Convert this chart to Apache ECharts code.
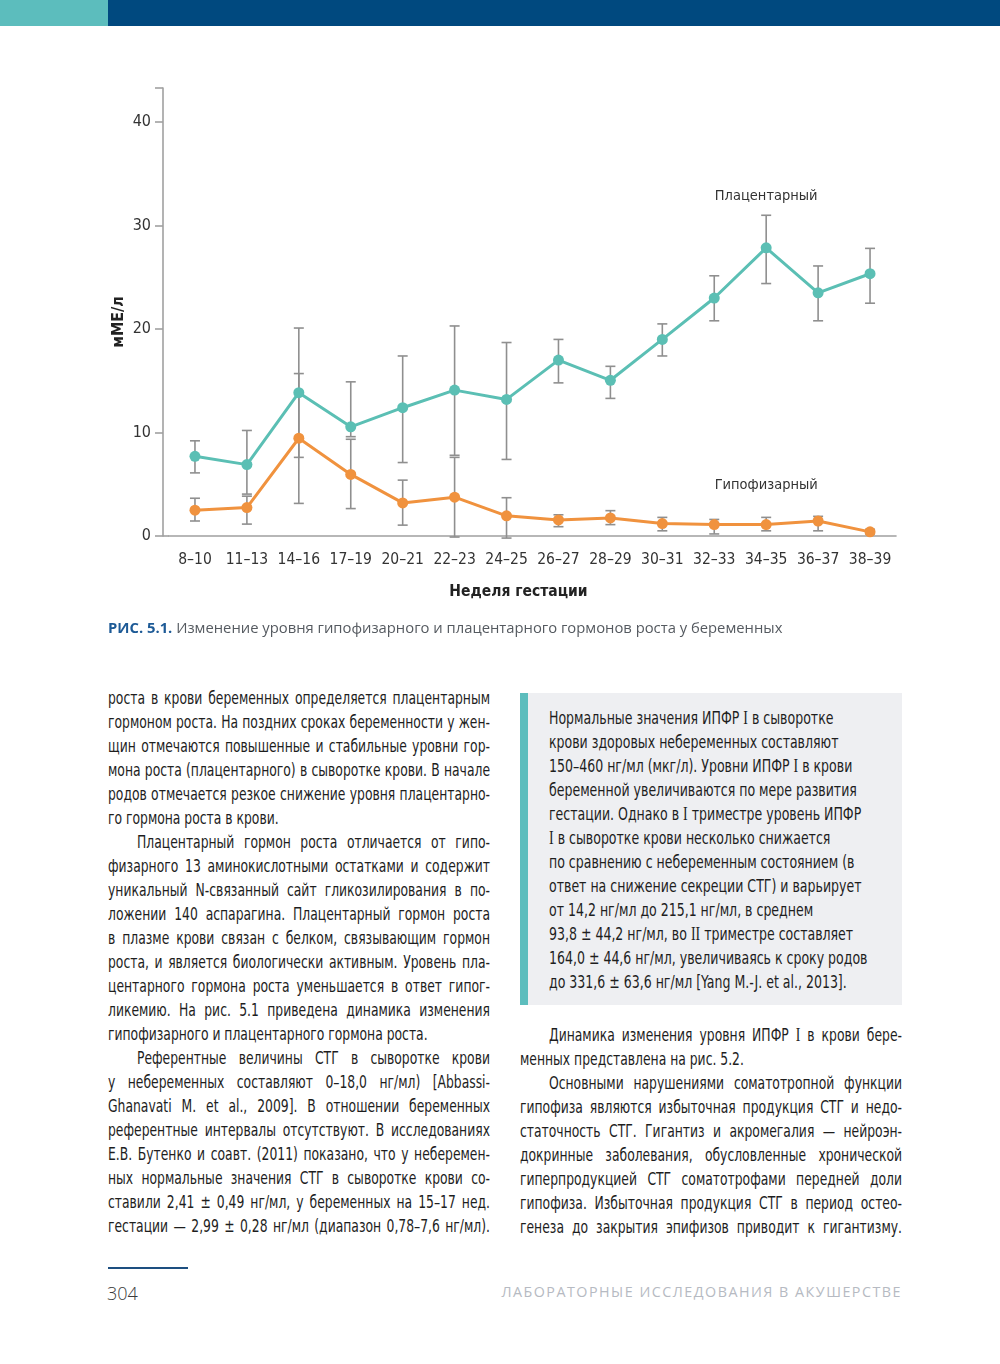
<!DOCTYPE html>
<html lang="ru">
<head>
<meta charset="utf-8">
<script src="https://cdn.jsdelivr.net/npm/echarts@6/dist/echarts.min.js"></script>
<style>
  html, body { margin: 0; padding: 0; background: #fff; }
  body { width: 1000px; height: 1364px; position: relative; overflow: hidden; }
  .bar-teal { position: absolute; left: 0; top: 0; width: 108px; height: 26px; background: #5cbdbd; }
  .bar-blue { position: absolute; left: 108px; top: 0; width: 892px; height: 26px; background: #00497f; }
  #chart { position: absolute; left: 0; top: 0; width: 1000px; height: 650px; }
  .caption { position: absolute; left: 108px; top: 617px; font-family: "Open Sans", "Noto Sans", sans-serif; font-size: 14.8px; color: #555a60; white-space: nowrap; }
  .caption b { color: #1d5a96; font-weight: 700; }
  .col { position: absolute; color: #1e1e1e; transform-origin: 0 0; font-stretch: condensed; }
  .col .ln { height: 24px; line-height: 24px; text-align: justify; text-align-last: justify; }
  .col .ln.l { text-align: left; text-align-last: left; }
  .meas { position: absolute; left: 0; top: 2000px; white-space: nowrap; visibility: hidden; font-stretch: condensed; }
  .box { position: absolute; left: 520px; top: 693px; width: 382px; height: 312px; background: #eeeff2; }
  .box .edge { position: absolute; left: 0; top: 0; width: 8px; height: 312px; background: #5cbdbd; }
  .rom { font-family: "Liberation Serif", "DejaVu Serif", serif; }
  .foot-line { position: absolute; left: 108px; top: 1267px; width: 80px; height: 2px; background: #1d4f80; }
  .pagenum { position: absolute; left: 107px; top: 1281px; font-family: "Open Sans", "Noto Sans", sans-serif; font-weight: 300; font-size: 18px; color: #3a3a3a; }
  .runhead { position: absolute; right: 98px; top: 1282px; font-family: "Open Sans", "Noto Sans", sans-serif; font-size: 14.3px; letter-spacing: 1.5px; color: #b6bac2; white-space: nowrap; }
</style>
</head>
<body>
<div class="bar-teal"></div><div class="bar-blue"></div>
<div id="chart"></div>
<div class="caption"><b>РИС. 5.1.</b> Изменение уровня гипофизарного и плацентарного гормонов роста у беременных</div>
<div class="box"><div class="edge"></div></div>
<div id="colL" class="col"></div>
<div id="colBox" class="col"></div>
<div id="colR" class="col"></div>
<div class="foot-line"></div>
<div class="pagenum">304</div>
<div class="runhead">ЛАБОРАТОРНЫЕ ИССЛЕДОВАНИЯ В АКУШЕРСТВЕ</div>
<script>
// ---------------- chart data ----------------
const categories = ['8–10','11–13','14–16','17–19','20–21','22–23','24–25','26–27','28–29','30–31','32–33','34–35','36–37','38–39'];
const placentalMean = [7.7, 6.9, 13.85, 10.55, 12.4, 14.1, 13.2, 17.0, 15.05, 19.0, 23.0, 27.85, 23.5, 25.35];
const placentalLow  = [6.1, 4.05, 7.6, 9.6, 7.1, 7.8, 7.4, 14.8, 13.3, 17.4, 20.8, 24.4, 20.8, 22.5];
const placentalHigh = [9.2, 10.2, 20.1, 14.9, 17.4, 20.3, 18.7, 19.0, 16.4, 20.5, 25.15, 31.0, 26.1, 27.8];
const pituitaryMean = [2.5, 2.75, 9.45, 5.95, 3.2, 3.75, 1.95, 1.55, 1.75, 1.2, 1.1, 1.1, 1.45, 0.4];
const pituitaryLow  = [1.45, 1.15, 3.15, 2.65, 1.05, -0.1, -0.2, 0.9, 1.1, 0.5, 0.2, 0.5, 0.5, 0.2];
const pituitaryHigh = [3.65, 3.85, 15.7, 9.35, 5.4, 7.6, 3.7, 2.05, 2.45, 1.8, 1.6, 1.8, 1.9, 0.65];
const yTicks = [0, 10, 20, 30, 40];
const seriesNames = ['Плацентарный', 'Гипофизарный'];
const xAxisTitle = 'Неделя гестации';
const yAxisTitle = 'мМЕ/л';
const labelIndex = 11;

// ---------------- font detection ----------------
function hasFont(f) {
  const c = document.createElement('canvas').getContext('2d');
  const t = 'абвгдежзийклмн ОПРСТУФ 0123456789 mmwwii';
  c.font = '40px monospace'; const a = c.measureText(t).width;
  c.font = '40px "' + f + '", monospace'; const b = c.measureText(t).width;
  c.font = '40px serif'; const a2 = c.measureText(t).width;
  c.font = '40px "' + f + '", serif'; const b2 = c.measureText(t).width;
  return a !== b && a2 !== b2;
}
let narrow = null;
['Liberation Sans Narrow', 'DejaVu Sans Condensed', 'Roboto Condensed', 'Open Sans Condensed'].some(f => { if (hasFont(f)) { narrow = f; return true; } return false; });
const chartFont = narrow ? narrow : 'Roboto';
const bodyFont = narrow ? '"' + narrow + '"' : '"Roboto", "Noto Sans", sans-serif';
const bodySize = 18;

// ---------------- text columns ----------------
const leftLines = [
  ['роста в крови беременных определяется плацентарным',''],
  ['гормоном роста. На поздних сроках беременности у жен-',''],
  ['щин отмечаются повышенные и стабильные уровни гор-',''],
  ['мона роста (плацентарного) в сыворотке крови. В начале',''],
  ['родов отмечается резкое снижение уровня плацентарно-',''],
  ['го гормона роста в крови.','l'],
  ['Плацентарный гормон роста отличается от гипо-','ind'],
  ['физарного 13 аминокислотными остатками и содержит',''],
  ['уникальный N-связанный сайт гликозилирования в по-',''],
  ['ложении 140 аспарагина. Плацентарный гормон роста',''],
  ['в плазме крови связан с белком, связывающим гормон',''],
  ['роста, и является биологически активным. Уровень пла-',''],
  ['центарного гормона роста уменьшается в ответ гипог-',''],
  ['ликемию. На рис. 5.1 приведена динамика изменения',''],
  ['гипофизарного и плацентарного гормона роста.','l'],
  ['Референтные величины СТГ в сыворотке крови','ind'],
  ['у небеременных составляют 0–18,0 нг/мл) [Abbassi-',''],
  ['Ghanavati M. et al., 2009]. В отношении беременных',''],
  ['референтные интервалы отсутствуют. В исследованиях',''],
  ['Е.В. Бутенко и соавт. (2011) показано, что у неберемен-',''],
  ['ных нормальные значения СТГ в сыворотке крови со-',''],
  ['ставили 2,41 ± 0,49 нг/мл, у беременных на 15–17 нед.',''],
  ['гестации — 2,99 ± 0,28 нг/мл (диапазон 0,78–7,6 нг/мл).','']
];
const boxLines = [
  'Нормальные значения ИПФР <span class="rom">I</span> в сыворотке',
  'крови здоровых небеременных составляют',
  '150–460 нг/мл (мкг/л). Уровни ИПФР <span class="rom">I</span> в крови',
  'беременной увеличиваются по мере развития',
  'гестации. Однако в <span class="rom">I</span> триместре уровень ИПФР',
  '<span class="rom">I</span> в сыворотке крови несколько снижается',
  'по сравнению с небеременным состоянием (в',
  'ответ на снижение секреции СТГ) и варьирует',
  'от 14,2 нг/мл до 215,1 нг/мл, в среднем',
  '93,8 ± 44,2 нг/мл, во <span class="rom">II</span> триместре составляет',
  '164,0 ± 44,6 нг/мл, увеличиваясь к сроку родов',
  'до 331,6 ± 63,6 нг/мл [Yang M.-J. et al., 2013].'
];
const rightLines = [
  ['Динамика изменения уровня ИПФР <span class="rom">I</span> в крови бере-','ind'],
  ['менных представлена на рис. 5.2.','l'],
  ['Основными нарушениями соматотропной функции','ind'],
  ['гипофиза являются избыточная продукция СТГ и недо-',''],
  ['статочность СТГ. Гигантиз и акромегалия — нейроэн-',''],
  ['докринные заболевания, обусловленные хронической',''],
  ['гиперпродукцией СТГ соматотрофами передней доли',''],
  ['гипофиза. Избыточная продукция СТГ в период остео-',''],
  ['генеза до закрытия эпифизов приводит к гигантизму.','']
];
const indentPx = 29;
const colW = 382;
// measure natural widths to find a common horizontal condensing factor
const meas = document.createElement('span');
meas.className = 'meas';
meas.style.fontFamily = bodyFont;
meas.style.fontSize = bodySize + 'px';
document.body.appendChild(meas);
function natural(html) { meas.innerHTML = html; return meas.getBoundingClientRect().width; }
let scale = 1;
leftLines.concat(rightLines).forEach(l => {
  if (l[1] === 'l') return;
  const w = natural(l[0]);
  const avail = colW - (l[1] === 'ind' ? indentPx : 0);
  scale = Math.min(scale, avail / w);
});
scale = scale * 0.995;
function fillCol(id, left, top, width, lines, extra) {
  const s = scale * (extra || 1);
  const el = document.getElementById(id);
  el.style.left = left + 'px';
  el.style.top = top + 'px';
  el.style.width = (width / s) + 'px';
  el.style.transform = 'scaleX(' + s + ')';
  el.style.fontFamily = bodyFont;
  el.style.fontSize = bodySize + 'px';
  el.innerHTML = lines.map(l => '<div class="ln ' + (l[1] === 'l' ? 'l' : '') + '"' +
    (l[1] === 'ind' ? ' style="text-indent:' + (indentPx / s) + 'px"' : '') + '>' + l[0] + '</div>').join('');
}
fillCol('colL', 108, 686, colW, leftLines);
fillCol('colBox', 549, 706, 345, boxLines.map(t => [t, 'l']), 1.015);
fillCol('colR', 520, 1023, colW, rightLines);

// ---------------- chart ----------------
const teal = '#5bbfb4';
const orange = '#f0923e';
const errColor = '#8f8f8f';
function errorBars(low, high) {
  return {
    type: 'custom',
    z: 1,
    silent: true,
    clip: false,
    encode: { x: 0, y: [1, 2] },
    data: categories.map((c, i) => [i, low[i], high[i]]),
    renderItem: function (params, api) {
      const i = api.value(0);
      const top = api.coord([i, api.value(2)]);
      const bot = api.coord([i, api.value(1)]);
      const w = 5;
      const st = { stroke: errColor, lineWidth: 1.6 };
      return {
        type: 'group',
        children: [
          { type: 'line', shape: { x1: top[0], y1: top[1], x2: bot[0], y2: bot[1] }, style: st },
          { type: 'line', shape: { x1: top[0] - w, y1: top[1], x2: top[0] + w, y2: top[1] }, style: st },
          { type: 'line', shape: { x1: bot[0] - w, y1: bot[1], x2: bot[0] + w, y2: bot[1] }, style: st }
        ]
      };
    }
  };
}
function lineSeries(name, values, color, labelDist) {
  return {
    name: name,
    type: 'line',
    z: 3,
    data: values.map((v, i) => i === labelIndex ? {
      value: v,
      label: { show: true, formatter: name, position: 'top', distance: labelDist,
               color: '#333', fontSize: 14.5, fontFamily: chartFont }
    } : v),
    symbol: 'circle',
    symbolSize: 11,
    lineStyle: { color: color, width: 3 },
    itemStyle: { color: color },
    emphasis: { disabled: true }
  };
}
const chart = echarts.init(document.getElementById('chart'), null, { renderer: 'canvas' });
chart.setOption({
  animation: false,
  grid: { left: 169, right: 104, top: 88, bottom: 114, containLabel: false },
  xAxis: {
    type: 'category',
    data: categories,
    boundaryGap: true,
    name: xAxisTitle,
    nameLocation: 'middle',
    nameGap: 48,
    nameMoveOverlap: false,
    nameTextStyle: { color: '#222', fontSize: 15.5, fontWeight: 'bold', fontFamily: chartFont, padding: [0, 28, 0, 0] },
    axisLine: { lineStyle: { color: '#a0a0a0', width: 1.6 } },
    axisTick: { alignWithLabel: true, length: 8, lineStyle: { color: '#a0a0a0', width: 1.6 } },
    axisLabel: { color: '#333', fontSize: 15.5, fontFamily: chartFont, margin: 16, interval: 0 }
  },
  yAxis: {
    type: 'value',
    min: 0,
    max: 43.3,
    interval: 10,
    offset: 6,
    name: yAxisTitle,
    nameLocation: 'middle',
    nameRotate: 90,
    nameGap: 36,
    nameMoveOverlap: false,
    nameTextStyle: { color: '#222', fontSize: 16, fontWeight: 'bold', fontFamily: chartFont, padding: [0, 20, 0, 0] },
    axisLine: { show: true, lineStyle: { color: '#a0a0a0', width: 1.6 } },
    axisTick: { show: true, length: 8, lineStyle: { color: '#a0a0a0', width: 1.6 } },
    splitLine: { show: false },
    axisLabel: { color: '#333', fontSize: 16, fontFamily: chartFont, margin: 12,
                 formatter: v => yTicks.indexOf(v) >= 0 ? String(v) : '' }
  },
  graphic: [
    { type: 'line', silent: true, shape: { x1: 163, y1: 536, x2: 169, y2: 536 }, style: { stroke: '#a0a0a0', lineWidth: 1.6 } }
  ],
  series: [
    errorBars(placentalLow, placentalHigh),
    errorBars(pituitaryLow, pituitaryHigh),
    lineSeries(seriesNames[0], placentalMean, teal, 39),
    lineSeries(seriesNames[1], pituitaryMean, orange, 26)
  ]
});
</script>
</body>
</html>
